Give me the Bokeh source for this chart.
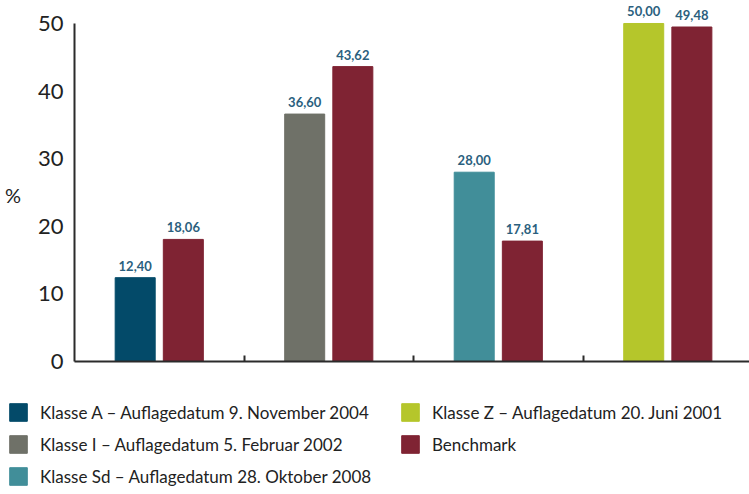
from bokeh.plotting import figure
from bokeh.models import ColumnDataSource, Legend, LegendItem, FixedTicker, Range1d
from bokeh.core.properties import value
from bokeh.embed import file_html
from bokeh.resources import INLINE

# ---- data ----
class_labels = [
    "Klasse A – Auflagedatum 9. November 2004",
    "Klasse I – Auflagedatum 5. Februar 2002",
    "Klasse Sd – Auflagedatum 28. Oktober 2008",
    "Klasse Z – Auflagedatum 20. Juni 2001",
]
class_values = [12.40, 36.60, 28.00, 50.00]
bench_label = "Benchmark"
bench_values = [18.06, 43.62, 17.81, 49.48]
class_colors = ["#034a69", "#6f7168", "#418e99", "#b5c62b"]
bench_color = "#7f2333"
y_ticks = [0, 10, 20, 30, 40, 50]
group_separators = [1, 2, 3]

FONT = "Lato"
LABEL_COLOR = "#2b5f7e"
TEXT_COLOR = "#222222"

centers = [i + 0.5 for i in range(len(class_values))]
off = 0.142
bw = 0.236

def fmt(v):
    return f"{v:.2f}".replace(".", ",")

src_c = ColumnDataSource(dict(
    x=[c - off for c in centers], top=class_values, color=class_colors,
    txt=[fmt(v) for v in class_values]))
src_b = ColumnDataSource(dict(
    x=[c + off for c in centers], top=bench_values,
    txt=[fmt(v) for v in bench_values]))

p = figure(width=749, height=376, output_backend="svg", toolbar_location=None,
           x_range=Range1d(0, 3.982), y_range=Range1d(0, 53.4),
           min_border_left=74, min_border_right=0, min_border_top=0,
           min_border_bottom=15)
p.outline_line_color = None
p.grid.grid_line_color = None

rc = p.vbar(x="x", top="top", width=bw, bottom=0, color="color", source=src_c)
rb = p.vbar(x="x", top="top", width=bw, bottom=0, color=bench_color, source=src_b)

for s in (src_c, src_b):
    p.text(x="x", y="top", text="txt", source=s, text_align="center",
           text_baseline="bottom", y_offset=-7, text_color=LABEL_COLOR,
           text_font_size="13px", text_font_style="bold", text_font=value(FONT))

# axes
ya = p.yaxis[0]
ya.ticker = FixedTicker(ticks=y_ticks)
ya.bounds = (0, 50)
ya.major_tick_in = 0
ya.major_tick_out = 0
ya.minor_tick_line_color = None
ya.axis_line_width = 2
ya.axis_line_color = "#2b2b2b"
ya.major_label_text_font_size = "22px"
ya.major_label_text_font = FONT
ya.major_label_text_color = TEXT_COLOR
ya.major_label_standoff = 11
ya.axis_label = "\n%"
ya.axis_label_orientation = "horizontal"
ya.axis_label_text_font_style = "normal"
ya.axis_label_text_font_size = "20px"
ya.axis_label_text_font = FONT
ya.axis_label_text_color = TEXT_COLOR
ya.axis_label_standoff = 14

xa = p.xaxis[0]
xa.ticker = FixedTicker(ticks=group_separators)
xa.major_label_overrides = {t: "" for t in group_separators}
xa.major_tick_in = 6
xa.major_tick_out = 0
xa.major_tick_line_width = 2
xa.major_tick_line_color = "#2b2b2b"
xa.minor_tick_line_color = None
xa.axis_line_width = 2
xa.axis_line_color = "#2b2b2b"
xa.major_label_text_font_size = "1px"
xa.major_label_standoff = 0

# ---- legend panel (second root, frame covers it entirely) ----
leg = figure(width=749, height=118, output_backend="svg", toolbar_location=None,
             x_axis_type=None, y_axis_type=None,
             x_range=Range1d(0, 4), y_range=Range1d(100, 101),
             min_border_left=0, min_border_right=0, min_border_top=0,
             min_border_bottom=0)
leg.outline_line_color = None
leg.grid.grid_line_color = None
lc = leg.vbar(x="x", top="top", width=bw, bottom=0, color="color", source=src_c)
lb = leg.vbar(x="x", top="top", width=bw, bottom=0, color=bench_color, source=src_b)

items1 = [LegendItem(label=class_labels[i], renderers=[lc], index=i) for i in range(3)]
items2 = [LegendItem(label=class_labels[3], renderers=[lc], index=3),
          LegendItem(label=bench_label, renderers=[lb], index=0)]

for items, loc in ((items1, (7, 7)), (items2, (399, 39))):
    lg = Legend(items=items, location=loc, glyph_width=22, glyph_height=22,
                label_text_font_size="17px", label_text_font=FONT,
                label_text_color=TEXT_COLOR, label_standoff=11, spacing=10,
                padding=0, margin=0, border_line_alpha=0,
                background_fill_alpha=0, label_height=22)
    leg.add_layout(lg)

open("out.html", "w").write(file_html([p, leg], INLINE))
